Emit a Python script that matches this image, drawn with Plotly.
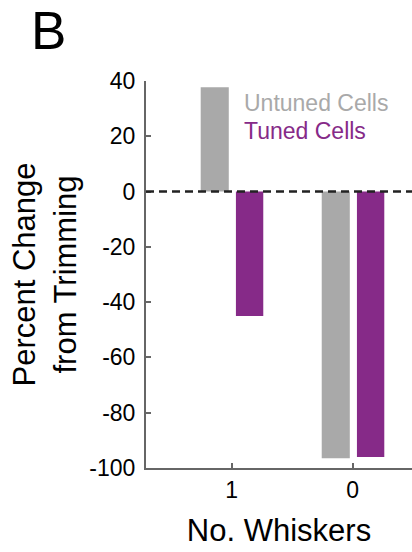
import plotly.graph_objects as go

# Number of whiskers left after trimming
categories = ["1", "0"]
untuned_change = [37.7, -96.5]
tuned_change = [-45.0, -96.0]
y_ticks = [40, 20, 0, -20, -40, -60, -80, -100]

GRAY = "#a9a9a9"
PURPLE = "#862a88"
AXIS = "#666666"
FONT = "Liberation Sans, Arial, Helvetica, sans-serif"

fig = go.Figure()
fig.add_trace(go.Bar(
    x=categories, y=untuned_change, name="Untuned Cells",
    marker=dict(color=GRAY, line=dict(width=0)),
    width=0.232, offset=-0.256,
))
fig.add_trace(go.Bar(
    x=categories, y=tuned_change, name="Tuned Cells",
    marker=dict(color=PURPLE, line=dict(width=0)),
    width=0.226, offset=0.035,
))

# dashed zero reference line
fig.add_shape(type="line", xref="paper", x0=0, x1=1, yref="y", y0=0, y1=0,
              line=dict(color="#222222", width=2.5, dash="8px,5px"), layer="above")

# text legend
fig.add_annotation(text="Untuned Cells", xref="paper", yref="paper", x=0.36, y=0.944,
                   xanchor="left", yanchor="middle", showarrow=False,
                   font=dict(family=FONT, size=23, color=GRAY))
fig.add_annotation(text="Tuned Cells", xref="paper", yref="paper", x=0.36, y=0.871,
                   xanchor="left", yanchor="middle", showarrow=False,
                   font=dict(family=FONT, size=23, color=PURPLE))

# panel letter
fig.add_annotation(text="B", xref="paper", yref="paper", x=-0.44, y=1.13,
                   xanchor="left", yanchor="middle", showarrow=False,
                   font=dict(family=FONT, size=53, color="black"))

fig.update_layout(
    width=412, height=552,
    margin=dict(l=146, r=0, t=81, b=84),
    plot_bgcolor="white", paper_bgcolor="white",
    barmode="overlay", showlegend=False,
    font=dict(family=FONT, color="black"),
)
fig.update_xaxes(
    type="category", range=[-0.708, 1.49],
    showline=True, linecolor=AXIS, linewidth=2,
    ticks="inside", ticklen=5, tickwidth=2, tickcolor=AXIS,
    tickfont=dict(size=23), showgrid=False, zeroline=False,
    title=dict(text="No. Whiskers", font=dict(size=31), standoff=18),
)
fig.update_yaxes(
    range=[-100, 40], tickvals=y_ticks, ticktext=[str(v) for v in y_ticks],
    showline=True, linecolor=AXIS, linewidth=2,
    ticks="inside", ticklen=5, tickwidth=2, tickcolor=AXIS,
    tickfont=dict(size=23), ticklabelstandoff=4, showgrid=False, zeroline=False,
    title=dict(text="Percent Change<br>from Trimming", font=dict(size=31), standoff=4),
)

fig.write_html("out.html")
